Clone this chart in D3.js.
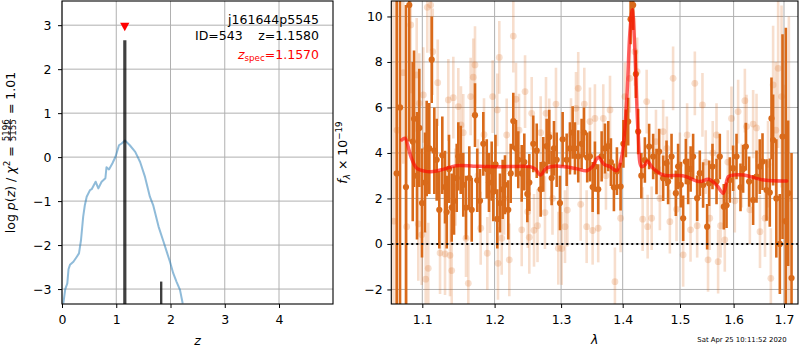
<!DOCTYPE html>
<html>
<head>
<meta charset="utf-8">
<script src="https://cdn.jsdelivr.net/npm/d3@7"></script>
<style>
  body { margin: 0; background: #fff; }
  svg { display: block; }
  text { font-family: "DejaVu Sans", sans-serif; }
</style>
</head>
<body>
<svg id="chart" width="800" height="350"></svg>
<script>
// ---------- redshift probability panel ----------
const zTicks = [0, 1, 2, 3, 4];
const logpTicks = [-3, -2, -1, 0, 1, 2, 3];
const zGrid = [0.024,0.06,0.098,0.12,0.147,0.21,0.27,0.313,0.35,0.39,0.42,0.455,0.516,0.547,0.62,0.67,0.73,0.80,0.82,0.866,0.93,0.99,1.05,1.10,1.16,1.25,1.35,1.44,1.53,1.62,1.68,1.78,1.87,1.93,1.99,2.05,2.11,2.175,2.225];
const logPz = [-3.33,-3.0,-2.87,-2.55,-2.45,-2.38,-2.27,-2.19,-1.89,-1.36,-1.1,-0.90,-0.75,-0.73,-0.56,-0.71,-0.56,-0.48,-0.23,-0.28,-0.14,0.02,0.27,0.31,0.38,0.27,0.12,-0.11,-0.45,-0.90,-1.09,-1.58,-1.92,-2.15,-2.38,-2.64,-2.83,-3.02,-3.33];
// stems at the best redshift and a secondary solution
const stemZ = [1.158, 1.828];
const stemTop = [2.66, -2.83];
const stemWidth = [3.2, 2.4];
const zSpec = 1.157;
const zSpecMarkY = 2.96;

// ---------- spectrum panel ----------
const lamTicks = [1.1, 1.2, 1.3, 1.4, 1.5, 1.6, 1.7];
const fluxTicks = [-2, 0, 2, 4, 6, 8, 10];

const darkWave = [1.0666,1.0709,1.0786,1.0829,1.0874,1.0891,1.0930,1.0960,1.0996,1.1036,
1.1058,1.1093,1.1125,1.1160,1.1192,1.1227,1.1268,1.1305,1.1328,1.1359,
1.1396,1.1428,1.1465,1.1487,1.1520,1.1556,1.1594,1.1640,1.1674,1.1720,
1.1752,1.1791,1.1838,1.1887,1.1919,1.1958,1.1981,1.2013,1.2039,1.2078,
1.2117,1.2151,1.2199,1.2235,1.2273,1.2313,1.2347,1.2398,1.2437,1.2482,
1.2512,1.2572,1.2624,1.2684,1.2724,1.2776,1.2816,1.2853,1.2889,1.2931,
1.2982,1.3024,1.3087,1.3139,1.3182,1.3218,1.3271,1.3325,1.3362,1.3415,
1.3459,1.3503,1.3540,1.3594,1.3650,1.3704,1.3759,1.3803,1.3853,1.3903,
1.3965,1.4012,1.4054,1.4093,1.4134,1.4178,1.4224,1.4263,1.4318,1.4379,
1.4453,1.4523,1.4582,1.4628,1.4699,1.4759,1.4787,1.4848,1.4925,1.4966,
1.5015,1.5057,1.5106,1.5148,1.5193,1.5239,1.5313,1.5362,1.5423,1.5498,
1.5535,1.5598,1.5674,1.5736,1.5812,1.5864,1.5927,1.5990,1.6056,1.6133,
1.6184,1.6237,1.6301,1.6380,1.6447,1.6512,1.6566,1.6646,1.6712,1.6746,
1.6779,1.6844,1.6915,1.6970,1.7038,1.7085,1.7155];
const darkFlux = [3.1,6.0,2.5,10.5,4.5,5.5,3.0,5.1,1.8,2.7,
4.2,4.2,8.1,4.1,3.7,1.5,3.9,2.5,1.4,3.3,
1.6,1.9,2.9,3.85,3.7,2.6,1.6,2.9,1.5,5.66,
2.8,1.9,4.4,3.3,2.7,3.2,2.3,3.5,1.1,1.8,
2.4,2.6,1.5,3.1,5.4,4.2,3.7,3.1,3.6,2.2,
2.7,4.4,4.1,2.4,3.5,4.3,4.7,2.9,4.2,3.7,
1.8,4.6,3.7,4.2,4.9,4.2,3.85,4.4,4.9,3.8,
3.85,2.5,3.4,2.4,3.85,4.2,4.3,3.6,2.49,3.2,
2.52,4.4,4.86,5.38,9.88,10.5,7.47,4.94,3.0,3.69,
4.28,3.84,3.18,4.06,2.89,3.55,2.74,3.84,2.23,3.40,
2.6,1.13,3.62,2.74,3.3,3.84,2.01,3.11,2.59,0.76,
2.67,3.40,2.74,3.84,1.64,1.7,2.81,3.33,3.84,2.49,
3.3,4.28,2.74,1.93,2.96,3.4,3.62,2.37,2.26,5.52,
4.57,2.0,0.0,4.72,1.0,2.23,-1.5];
const darkErr = [9,9,8,6,3.5,3,2.8,2.6,2.4,2.2,
2.1,2.0,1.9,1.9,1.8,1.7,1.7,1.6,1.6,1.5,
1.5,1.5,1.5,1.5,1.5,1.4,1.4,1.4,1.4,1.4,
1.4,1.4,1.4,1.3,1.3,1.3,1.3,1.3,1.3,1.3,
1.3,1.3,1.3,1.3,1.25,1.25,1.25,1.25,1.25,1.25,
1.25,1.25,1.2,1.2,1.2,1.2,1.2,1.2,1.2,1.2,
1.2,1.2,1.15,1.15,1.15,1.15,1.15,1.1,1.1,1.1,
1.1,1.1,1.1,1.1,1.1,1.1,1.1,1.05,1.05,1.05,
1.05,1.05,1.05,1.05,1.1,1.1,1.05,1.0,1.0,1.0,
1.0,1.0,1.0,1.0,1.0,1.0,1.0,1.0,1.0,1.0,
1.0,1.0,1.0,1.0,1.0,1.0,1.0,1.0,1.0,1.0,
1.0,1.0,1.0,1.0,1.0,1.0,1.0,1.0,1.0,1.05,
1.05,1.05,1.1,1.1,1.15,1.2,1.25,1.35,1.5,1.8,
2.0,2.6,2.2,4.5,8.5,3.2,5.5];

const lightWave = [1.0625,1.0670,1.0751,1.0795,1.0848,1.0926,1.0947,1.0960,1.0992,1.1013,
1.1045,1.1066,1.1079,1.1112,1.1139,1.1206,1.1237,1.1305,1.1350,1.1373,
1.1396,1.1418,1.1448,1.1487,1.1524,1.1556,1.1594,1.1626,1.1659,1.1696,
1.1720,1.1762,1.1801,1.1848,1.1895,1.1934,1.1972,1.2039,1.2049,1.2068,
1.2103,1.2137,1.2176,1.2214,1.2273,1.2313,1.2358,1.2398,1.2448,1.2488,
1.2512,1.2548,1.2583,1.2636,1.2684,1.2750,1.2766,1.2816,1.2866,1.2920,
1.2956,1.3009,1.3061,1.3098,1.3156,1.3235,1.3271,1.3310,1.3368,1.3406,
1.3459,1.3503,1.3540,1.3594,1.3677,1.3721,1.3788,1.3870,1.3965,1.4037,
1.4121,1.4207,1.4246,1.4341,1.4410,1.4427,1.4497,1.4572,1.4641,1.4699,
1.4764,1.4818,1.4876,1.4937,1.4997,1.5057,1.5129,1.5191,1.5270,1.5313,
1.5411,1.5472,1.5515,1.5547,1.5603,1.5674,1.5704,1.5750,1.5831,1.5888,
1.5959,1.6023,1.6087,1.6159,1.6218,1.6251,1.6316,1.6380,1.6447,1.6516,
1.6616,1.6676,1.6733,1.6779,1.6834,1.6881,1.6950,1.7018,1.7100];
const lightFlux = [1.0,5.0,7.53,0.76,9.63,7.43,0.88,6.18,0.4,6.55,
-1.55,10.4,-1.07,10.5,8.45,7.09,-0.4,-0.44,6.33,-0.5,
-1.17,6.43,2.5,6.04,5.23,4.89,0.25,-1.73,6.48,7.33,
7.87,3.0,0.69,4.8,-0.41,2.08,6.48,5.89,-0.85,8.2,
0.25,2.0,4.79,-0.7,9.14,6.36,5.0,0.62,6.7,1.42,
0.29,5.74,0.6,0.8,4.89,1.38,5.74,4.79,2.0,6.15,
-0.19,-0.2,0.76,1.49,4.8,5.96,6.84,1.74,6.15,0.76,
5.38,0.59,5.52,0.69,5.52,3.0,5.89,-1.66,1.13,6.48,
7.28,8.45,7.57,1.09,6.26,0.76,1.13,4.5,2.0,4.94,
4.2,0.98,7.28,1.52,3.5,-0.48,4.79,0.62,7.06,0.8,
6.11,3.6,-0.7,1.13,4.0,4.79,-0.78,0.8,0.18,3.6,
5.52,1.9,5.82,3.0,6.30,5.16,1.5,5.27,5.1,0.54,
1.13,3.5,-1.51,6.99,5.0,7.72,6.48,1.0,2.0];
const lightErr = [10,8,4,4,3,2.5,2.5,2.2,2.2,2.1,
2.1,2.0,2.0,2.0,1.9,1.9,1.8,1.8,1.8,1.8,
1.8,1.8,1.7,1.7,1.7,1.7,1.7,1.7,1.7,1.7,
1.7,1.6,1.6,1.6,1.6,1.6,1.6,1.6,1.6,1.6,
1.6,1.6,1.6,1.6,1.6,1.6,1.6,1.6,1.6,1.6,
1.6,1.6,1.6,1.6,1.6,1.6,1.6,1.6,1.6,1.6,
1.6,1.6,1.6,1.6,1.6,1.6,1.6,1.6,1.6,1.6,
1.5,1.5,1.5,1.5,1.5,1.5,1.5,1.5,1.5,1.5,
1.5,1.5,1.5,1.4,1.4,1.4,1.4,1.4,1.4,1.4,
1.4,1.4,1.4,1.4,1.4,1.4,1.4,1.4,1.4,1.4,
1.4,1.4,1.4,1.4,1.4,1.4,1.4,1.4,1.4,1.4,
1.4,1.4,1.4,1.4,1.4,1.4,1.5,1.5,1.5,1.6,
1.7,1.9,2.2,2.6,3.0,3.5,4.0,6,8];

const modelWave = [1.0731,1.0774,1.082,1.085,1.0927,1.103,1.1146,1.13,1.146,1.17,1.19,1.22,1.252,1.260,1.268,1.277,1.29,1.303,1.325,1.341,1.350,1.3595,1.369,1.3788,1.390,1.3984,1.4068,1.4121,1.4162,1.4207,1.4263,1.432,1.438,1.442,1.452,1.470,1.505,1.5365,1.552,1.5677,1.580,1.590,1.600,1.619,1.66,1.7056];
const modelFlux = [4.57,4.65,4.2,3.84,3.33,3.2,3.18,3.3,3.44,3.42,3.40,3.40,3.40,3.3,3.03,3.33,3.42,3.40,3.3,3.22,3.4,3.81,3.5,3.40,3.22,3.84,6.33,9.26,10.3,8.53,4.87,3.40,3.47,3.65,3.33,3.03,3.0,2.74,2.84,2.59,2.23,2.96,3.03,3.03,2.81,2.77];

const stampText = "Sat Apr 25 10:11:52 2020";

// ---------- layout ----------
const svg = d3.select("#chart");
const FS = 12.5;
const ORANGE = "#d96a1a";
const GRID = "#b0b0b0";
const L = { x0: 62, x1: 333, y0: 1, y1: 304 };
const R = { x0: 391.3, x1: 798, y0: 1, y1: 304 };

const xL = d3.scaleLinear().domain([0, 5]).range([L.x0, 333.25]);
const yL = d3.scaleLinear().domain([-3.34, 3.55]).range([L.y1, L.y0]);
const xR = d3.scaleLog().domain([1.0597, 1.7289]).range([R.x0, R.x1]);
const yR = d3.scaleLinear().domain([-2.64, 10.68]).range([R.y1, R.y0]);

const defs = svg.append("defs");
defs.append("clipPath").attr("id", "clipL").append("rect")
  .attr("x", L.x0).attr("y", L.y0).attr("width", L.x1 - L.x0).attr("height", L.y1 - L.y0);
defs.append("clipPath").attr("id", "clipR").append("rect")
  .attr("x", R.x0).attr("y", R.y0).attr("width", R.x1 - R.x0).attr("height", R.y1 - R.y0);

function styleAxis(g) {
  g.select(".domain").remove();
  g.attr("font-family", "DejaVu Sans").attr("font-size", FS);
  g.selectAll(".tick line").attr("stroke", "#000").attr("stroke-width", 1);
  g.selectAll(".tick text").attr("fill", "#000");
}

// ===== left panel =====
const gL = svg.append("g");
const gLgrid = gL.append("g");
gLgrid.selectAll("line.v").data(zTicks).join("line").attr("class", "v")
  .attr("x1", d => xL(d)).attr("x2", d => xL(d)).attr("y1", L.y0).attr("y2", L.y1)
  .attr("stroke", GRID).attr("stroke-width", 1);
gLgrid.selectAll("line.h").data(logpTicks).join("line").attr("class", "h")
  .attr("x1", L.x0).attr("x2", L.x1).attr("y1", d => yL(d)).attr("y2", d => yL(d))
  .attr("stroke", GRID).attr("stroke-width", 1);

const gLdata = gL.append("g").attr("clip-path", "url(#clipL)");
gLdata.append("path")
  .datum(d3.zip(zGrid, logPz))
  .attr("fill", "none").attr("stroke", "#1f77b4").attr("stroke-opacity", 0.5)
  .attr("stroke-width", 2).attr("stroke-linejoin", "round")
  .attr("d", d3.line().x(d => xL(d[0])).y(d => yL(d[1])));

gLdata.selectAll("line.stem").data(d3.zip(stemZ, stemTop, stemWidth)).join("line")
  .attr("class", "stem")
  .attr("x1", d => xL(d[0])).attr("x2", d => xL(d[0]))
  .attr("y1", L.y1).attr("y2", d => yL(d[1]))
  .attr("stroke", "#000").attr("stroke-opacity", 0.75).attr("stroke-width", d => d[2]);

gL.append("path")
  .attr("transform", `translate(${xL(zSpec)},${yL(zSpecMarkY)})`)
  .attr("d", "M-4.6,-4.3 L4.6,-4.3 L0,4.3 Z")
  .attr("fill", "#ff0000");

// annotation text
const ann = gL.append("g").attr("font-size", FS);
ann.append("text").attr("x", 319).attr("y", 23.5).attr("text-anchor", "end").text("j161644p5545");
ann.append("text").attr("x", 195).attr("y", 39.5).attr("text-anchor", "start").text("ID=543");
ann.append("text").attr("x", 319).attr("y", 39.5).attr("text-anchor", "end").text("z=1.1580");
const zs = ann.append("text").attr("x", 319).attr("y", 58.5).attr("text-anchor", "end").attr("fill", "#ff0000");
zs.append("tspan").attr("font-style", "italic").text("z");
zs.append("tspan").attr("font-size", FS * 0.7).attr("dy", 2.5).text("spec");
zs.append("tspan").attr("dy", -2.5).text("=1.1570");

// axes
gL.append("g").attr("transform", `translate(0,${L.y1})`)
  .call(d3.axisBottom(xL).tickValues(zTicks).tickFormat(d3.format("d"))
    .tickSizeInner(4).tickSizeOuter(0).tickPadding(7.5))
  .call(styleAxis);
gL.append("g").attr("transform", `translate(${L.x0},0)`)
  .call(d3.axisLeft(yL).tickValues(logpTicks).tickFormat(d3.format("d"))
    .tickSizeInner(4).tickSizeOuter(0).tickPadding(6.5))
  .call(styleAxis);
gL.append("rect").attr("x", L.x0).attr("y", L.y0).attr("width", L.x1 - L.x0).attr("height", L.y1 - L.y0)
  .attr("fill", "none").attr("stroke", "#000").attr("stroke-width", 1.1);

gL.append("text").attr("x", (L.x0 + L.x1) / 2).attr("y", 345).attr("text-anchor", "middle")
  .attr("font-size", FS).attr("font-style", "italic").text("z");

// rotated y label with a stacked fraction
{
  const outer = gL.append("g").attr("transform", "translate(15,152.5) rotate(-90)");
  const inner = outer.append("g");
  const t1 = inner.append("text").attr("font-size", FS).attr("x", 0).attr("y", 0);
  t1.append("tspan").text("log ");
  t1.append("tspan").attr("font-style", "italic").text("p");
  t1.append("tspan").text("(");
  t1.append("tspan").attr("font-style", "italic").text("z");
  t1.append("tspan").text(") / ");
  t1.append("tspan").attr("font-style", "italic").text("χ");
  t1.append("tspan").attr("font-size", FS * 0.7).attr("dy", -5).text("2");
  t1.append("tspan").attr("dy", 5).style("white-space", "pre").text(" = ");
  const w1 = t1.node().getComputedTextLength();
  const fs2 = FS * 0.7;
  const num = inner.append("text").attr("font-size", fs2).attr("y", -6.3).text("5196");
  const den = inner.append("text").attr("font-size", fs2).attr("y", 1.2).text("5155");
  const wf = Math.max(num.node().getComputedTextLength(), den.node().getComputedTextLength());
  const fx = w1 + 1;
  num.attr("x", fx + wf / 2).attr("text-anchor", "middle");
  den.attr("x", fx + wf / 2).attr("text-anchor", "middle");
  inner.append("line").attr("x1", fx).attr("x2", fx + wf).attr("y1", -4.6).attr("y2", -4.6)
    .attr("stroke", "#000").attr("stroke-width", 0.7);
  const t2 = inner.append("text").attr("font-size", FS).attr("x", fx + wf + 1).attr("y", 0)
    .style("white-space", "pre").text(" = 1.01");
  const W = fx + wf + 1 + t2.node().getComputedTextLength();
  inner.attr("transform", `translate(${-W / 2},0)`);
}

// ===== right panel =====
const gR = svg.append("g");
const gRgrid = gR.append("g");
gRgrid.selectAll("line.v").data(lamTicks).join("line").attr("class", "v")
  .attr("x1", d => xR(d)).attr("x2", d => xR(d)).attr("y1", R.y0).attr("y2", R.y1)
  .attr("stroke", GRID).attr("stroke-width", 1);
gRgrid.selectAll("line.h").data(fluxTicks).join("line").attr("class", "h")
  .attr("x1", R.x0).attr("x2", R.x1).attr("y1", d => yR(d)).attr("y2", d => yR(d))
  .attr("stroke", GRID).attr("stroke-width", 1);

const gRdata = gR.append("g").attr("clip-path", "url(#clipR)");

function errorbars(g, wave, flux, err, opts) {
  const pts = d3.zip(wave, flux, err);
  const gg = g.append("g");
  gg.selectAll("line").data(pts).join("line")
    .attr("x1", d => xR(d[0])).attr("x2", d => xR(d[0]))
    .attr("y1", d => yR(d[1] - d[2])).attr("y2", d => yR(d[1] + d[2]))
    .attr("stroke", ORANGE).attr("stroke-width", opts.lw).attr("stroke-opacity", opts.alpha);
  gg.selectAll("circle").data(pts).join("circle")
    .attr("cx", d => xR(d[0])).attr("cy", d => yR(d[1])).attr("r", opts.r)
    .attr("fill", ORANGE).attr("fill-opacity", opts.alpha);
}

errorbars(gRdata, lightWave, lightFlux, lightErr, { lw: 2.6, r: 3.4, alpha: 0.22 });
errorbars(gRdata, darkWave, darkFlux, darkErr, { lw: 2.6, r: 3.1, alpha: 1 });

gRdata.append("path")
  .datum(d3.zip(modelWave, modelFlux))
  .attr("fill", "none").attr("stroke", "#ff0000").attr("stroke-opacity", 0.62)
  .attr("stroke-width", 3.5).attr("stroke-linejoin", "round").attr("stroke-linecap", "round")
  .attr("d", d3.line().curve(d3.curveCatmullRom.alpha(0.5)).x(d => xR(d[0])).y(d => yR(d[1])));

gRdata.append("line")
  .attr("x1", R.x0).attr("x2", R.x1).attr("y1", yR(0)).attr("y2", yR(0))
  .attr("stroke", "#000").attr("stroke-width", 2).attr("stroke-dasharray", "2,3");

gR.append("g").attr("transform", `translate(0,${R.y1})`)
  .call(d3.axisBottom(xR).tickValues(lamTicks).tickFormat(d3.format(".1f"))
    .tickSizeInner(4).tickSizeOuter(0).tickPadding(7.5))
  .call(styleAxis);
gR.append("g").attr("transform", `translate(${R.x0},0)`)
  .call(d3.axisLeft(yR).tickValues(fluxTicks).tickFormat(d3.format("d"))
    .tickSizeInner(4).tickSizeOuter(0).tickPadding(4.5))
  .call(styleAxis);
gR.append("rect").attr("x", R.x0).attr("y", R.y0).attr("width", R.x1 - R.x0).attr("height", R.y1 - R.y0)
  .attr("fill", "none").attr("stroke", "#000").attr("stroke-width", 1.1);

gR.append("text").attr("x", (R.x0 + R.x1) / 2).attr("y", 344).attr("text-anchor", "middle")
  .attr("font-size", FS).attr("font-style", "italic").text("λ");

{
  const t = gR.append("text").attr("font-size", FS).attr("text-anchor", "middle")
    .attr("transform", "translate(347,152.5) rotate(-90)");
  t.append("tspan").attr("font-style", "italic").text("f");
  t.append("tspan").attr("font-style", "italic").attr("font-size", FS * 0.7).attr("dy", 3).text("λ");
  t.append("tspan").attr("dy", -3).style("white-space", "pre").text(" × 10");
  t.append("tspan").attr("font-size", FS * 0.7).attr("dy", -5).text("−19");
}

svg.append("text").attr("x", 697.3).attr("y", 341.7).attr("font-size", 6.9)
  .attr("fill", "#000").text(stampText);
</script>
</body>
</html>
